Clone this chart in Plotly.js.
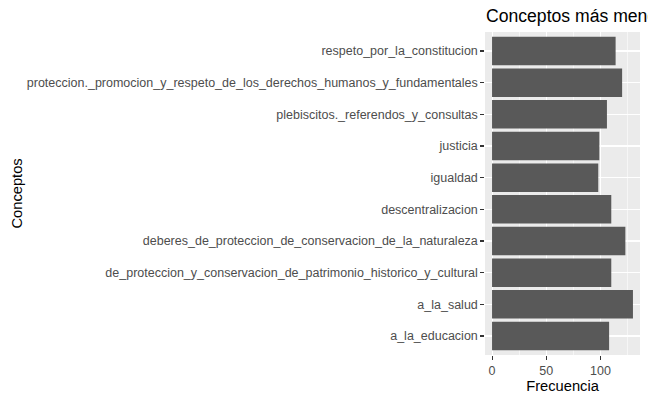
<!DOCTYPE html>
<html><head><meta charset="utf-8">
<script src="https://cdn.plot.ly/plotly-3.0.1.min.js"></script>
<style>body{margin:0;padding:0;background:#fff}#chart{width:648px;height:400px}</style>
</head><body><div id="chart"></div>
<script>
const categories = [
  "a_la_educacion",
  "a_la_salud",
  "de_proteccion_y_conservacion_de_patrimonio_historico_y_cultural",
  "deberes_de_proteccion_de_conservacion_de_la_naturaleza",
  "descentralizacion",
  "igualdad",
  "justicia",
  "plebiscitos._referendos_y_consultas",
  "proteccion._promocion_y_respeto_de_los_derechos_humanos_y_fundamentales",
  "respeto_por_la_constitucion"
];
const frecuencia = [108, 130, 110, 123, 110, 98, 99, 106, 120, 114];
const xTicks = [0, 50, 100];

const L = 485, R = 8, T = 32, B = 45;
const plotW = 648 - L - R;

const trace = {
  type: 'bar', orientation: 'h',
  x: frecuencia, y: categories,
  width: 0.9,
  marker: {color: '#595959', line: {width: 0}},
  hoverinfo: 'x+y'
};
const layout = {
  width: 648, height: 400,
  margin: {l: L, r: R, t: T, b: B, pad: 0},
  paper_bgcolor: '#ffffff', plot_bgcolor: '#EBEBEB',
  font: {family: 'Liberation Sans, Arial, sans-serif', color: '#4D4D4D', size: 12.5},
  showlegend: false,
  title: {text: 'Conceptos más mencionados', x: 486/648, xanchor: 'left', xref: 'container',
          y: 1 - 16/400, yref: 'container', yanchor: 'middle', font: {size: 17.6, color: '#000000'}},
  xaxis: {
    range: [-6.5, 136.5], tickvals: xTicks, ticktext: xTicks.map(String),
    showgrid: true, gridcolor: '#ffffff', gridwidth: 1.07, zeroline: false,
    minor: {dtick: 25, tick0: 25, showgrid: true, gridcolor: '#ffffff', gridwidth: 0.53},
    ticks: 'outside', ticklen: 3.7, tickwidth: 1.07, tickcolor: '#333333',
    showline: false, tickfont: {size: 12.5, color: '#4D4D4D'},
    title: {text: 'Frecuencia', font: {size: 14.7, color: '#000000'}, standoff: 3}
  },
  yaxis: {
    type: 'category', categoryorder: 'array', categoryarray: categories,
    range: [-0.6, 9.6],
    showgrid: true, gridcolor: '#ffffff', gridwidth: 1.07, zeroline: false,
    ticks: 'outside', ticklen: 3.7, tickwidth: 1.07, tickcolor: '#333333',
    showline: false, tickfont: {size: 12.5, color: '#4D4D4D'},
    automargin: false
  },
  annotations: [{
    text: 'Conceptos', textangle: -90, showarrow: false,
    xref: 'paper', yref: 'paper', x: (16 - L) / plotW, y: 0.5,
    xanchor: 'center', yanchor: 'middle',
    font: {size: 14.7, color: '#000000'}
  }],
  bargap: 0.1
};
Plotly.newPlot('chart', [trace], layout, {displayModeBar: false, staticPlot: true});
</script>
</body></html>
